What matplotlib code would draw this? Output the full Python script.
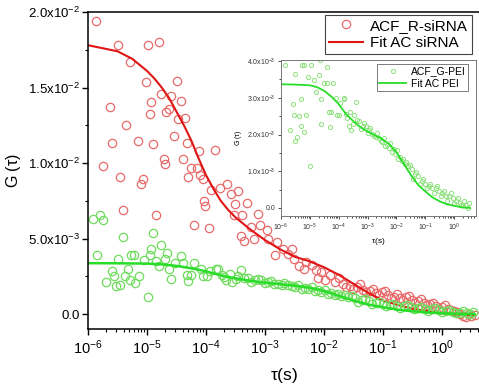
import numpy as np
import matplotlib.pyplot as plt
from matplotlib.ticker import MultipleLocator, FuncFormatter, LogLocator, NullFormatter

plt.rcParams['font.family'] = ['Liberation Sans', 'DejaVu Sans']
plt.rcParams['mathtext.fontset'] = 'custom'
plt.rcParams['mathtext.rm'] = 'Liberation Sans'
plt.rcParams['mathtext.it'] = 'Liberation Sans:italic'
plt.rcParams['mathtext.default'] = 'regular'

# ACF R-siRNA data (log10 tau, G)
red_exp = [-5.86, -5.75, -5.62, -5.59, -5.50, -5.45, -5.40, -5.36, -5.29, -5.15,
           -5.11, -5.06, -5.02, -4.99, -4.95, -4.93, -4.90, -4.85, -4.80, -4.77,
           -4.72, -4.69, -4.67, -4.63, -4.59, -4.55, -4.50, -4.47, -4.42, -4.39,
           -4.36, -4.33, -4.31, -4.25, -4.20, -4.16, -4.12, -4.10, -4.05, -4.03,
           -4.01, -3.95, -3.92, -3.84, -3.77, -3.64, -3.57, -3.53, -3.51, -3.46,
           -3.41, -3.39, -3.36, -3.30, -3.23, -3.18, -3.12, -3.09, -2.96, -2.95,
           -2.83, -2.79, -2.69, -2.61, -2.55, -2.51, -2.42, -2.34, -2.30, -2.20,
           -2.13, -2.10, -2.05, -1.99, -1.90, -1.82, -1.75, -1.68, -1.62, -1.56,
           -1.51, -1.44, -1.39, -1.34, -1.29, -1.22, -1.17, -1.12, -1.07, -1.02,
           -0.97, -0.92, -0.86, -0.81, -0.76, -0.71, -0.66, -0.61, -0.56, -0.51,
           -0.46, -0.41, -0.36, -0.31, -0.25, -0.20, -0.15, -0.10, -0.05, 0.00,
           0.05, 0.10, 0.15, 0.20, 0.25, 0.31, 0.36, 0.41, 0.46, 0.49, 0.56]
red_g = [0.0194, 0.00980, 0.01373, 0.01132, 0.01780, 0.00909, 0.00691, 0.01254, 0.01669, 0.01148,
         0.00863, 0.00892, 0.01536, 0.01783, 0.01326, 0.01402, 0.01128, 0.00658, 0.01801, 0.01457,
         0.01028, 0.00993, 0.01338, 0.01356, 0.01444, 0.01177, 0.01543, 0.01293, 0.01411, 0.01028,
         0.01296, 0.01134, 0.00907, 0.00967, 0.00587, 0.00967, 0.01081, 0.00918, 0.00896, 0.00746,
         0.00713, 0.00570, 0.00819, 0.01084, 0.00836, 0.00863, 0.00797, 0.00658, 0.00730, 0.00815,
         0.00515, 0.00658, 0.00483, 0.00735, 0.00576, 0.00499, 0.00664, 0.00587, 0.00558, 0.00499,
         0.00389, 0.00477, 0.00432, 0.00399, 0.00428, 0.00362, 0.00318, 0.00300, 0.00344, 0.00326,
         0.00289, 0.00238, 0.00278, 0.00223, 0.00256, 0.00212, 0.00238, 0.00201, 0.00179, 0.00185,
         0.00166, 0.00179, 0.00199, 0.00159, 0.00146, 0.00152, 0.00166, 0.00139, 0.00126, 0.00146,
         0.00152, 0.00126, 0.00106, 0.00113, 0.00132, 0.00106, 0.00093, 0.00113, 0.00119, 0.00093,
         0.00073, 0.00086, 0.00099, 0.00073, 0.00060, 0.00066, 0.00073, 0.00053, 0.00033, 0.00046,
         0.00060, 0.00033, 0.00026, 0.00020, 0.00013, 0.00000, -0.00013, -0.00020, 0.00000, -0.00013, -0.00007]

# Fit AC siRNA
red_fit_exp = [-6.0, -5.5, -5.25, -5.0, -4.875, -4.75, -4.625, -4.5, -4.375, -4.25, -4.125,
               -4.0, -3.875, -3.75, -3.625, -3.5, -3.25, -3.0, -2.75, -2.5, -2.25, -2.0,
               -1.75, -1.5, -1.25, -1.0, -0.75, -0.5, -0.25, 0.0, 0.25, 0.56]
red_fit = [0.0178, 0.0174, 0.0169, 0.0161, 0.0156, 0.0150, 0.0143, 0.0134, 0.0125, 0.0115, 0.0103,
           0.0092, 0.0083, 0.0075, 0.0069, 0.0064, 0.0056, 0.0049, 0.0043, 0.0038, 0.0035, 0.0031,
           0.0026, 0.0020, 0.0014, 0.0009, 0.0006, 0.00035, 0.0002, 0.00005, -0.00003, -0.00009]

# ACF G-PEI data (log10 tau, G)
green_exp = [-5.92, -5.85, -5.80, -5.75, -5.69, -5.59, -5.56, -5.53, -5.50, -5.45,
             -5.40, -5.37, -5.32, -5.29, -5.27, -5.22, -5.20, -5.14, -5.05, -4.98,
             -4.95, -4.93, -4.89, -4.84, -4.80, -4.77, -4.70, -4.66, -4.63, -4.60,
             -4.52, -4.42, -4.39, -4.32, -4.31, -4.26, -4.20, -4.08, -4.05, -3.98,
             -3.94, -3.83, -3.80, -3.73, -3.70, -3.66, -3.60, -3.56, -3.50, -3.46,
             -3.40, -3.35, -3.29, -3.23, -3.17, -3.12, -3.06, -3.00, -2.95, -2.90,
             -2.84, -2.78, -2.72, -2.67, -2.61, -2.55, -2.50, -2.44, -2.38, -2.33,
             -2.27, -2.21, -2.16, -2.10, -2.05, -1.99, -1.93, -1.88, -1.82, -1.76,
             -1.71, -1.65, -1.59, -1.53, -1.47, -1.42, -1.36, -1.31, -1.24, -1.19,
             -1.12, -1.07, -1.00, -0.95, -0.88, -0.83, -0.76, -0.71, -0.64, -0.59,
             -0.53, -0.47, -0.41, -0.36, -0.29, -0.24, -0.17, -0.12, -0.05, 0.00,
             0.07, 0.12, 0.19, 0.24, 0.31, 0.36, 0.42, 0.47, 0.53]
green_g = [0.00631, 0.00389, 0.00658, 0.00621, 0.00212, 0.00283, 0.00252, 0.00183, 0.00366, 0.00194,
           0.00510, 0.00250, 0.00296, 0.00223, 0.00389, 0.00389, 0.00207, 0.00252, 0.00356, 0.00113,
           0.00389, 0.00432, 0.00536, 0.00349, 0.00316, 0.00459, 0.00362, 0.00404, 0.00296, 0.00230,
           0.00340, 0.00384, 0.00340, 0.00260, 0.00221, 0.00260, 0.00340, 0.00300, 0.00252, 0.00252,
           0.00285, 0.00300, 0.00296, 0.00256, 0.00245, 0.00223, 0.00262, 0.00212, 0.00230, 0.00252,
           0.00289, 0.00240, 0.00238, 0.00215, 0.00223, 0.00232, 0.00223, 0.00205, 0.00212, 0.00218,
           0.00201, 0.00196, 0.00194, 0.00205, 0.00190, 0.00183, 0.00179, 0.00190, 0.00168, 0.00172,
           0.00164, 0.00177, 0.00152, 0.00160, 0.00146, 0.00158, 0.00134, 0.00140, 0.00128, 0.00133,
           0.00119, 0.00125, 0.00113, 0.00118, 0.00106, 0.00079, 0.00093, 0.00099, 0.00086, 0.00066,
           0.00073, 0.00079, 0.00066, 0.00053, 0.00060, 0.00066, 0.00053, 0.00040, 0.00053, 0.00060,
           0.00046, 0.00033, 0.00040, 0.00046, 0.00033, 0.00020, 0.00033, 0.00040, 0.00026, 0.00013,
           0.00020, 0.00026, 0.00013, 0.00007, 0.00007, 0.00020, 0.00007, 0.00000, 0.00013]

# Fit AC PEI
green_fit_exp = [-6.0, -5.5, -5.0, -4.75, -4.5, -4.25, -4.0, -3.75, -3.5, -3.25, -3.0, -2.75,
                 -2.5, -2.25, -2.0, -1.75, -1.5, -1.25, -1.0, -0.75, -0.5, -0.25, 0.0, 0.3, 0.55]
green_fit = [0.00337, 0.00336, 0.00334, 0.00329, 0.00319, 0.00303, 0.00283, 0.00256, 0.00237,
             0.00220, 0.00208, 0.00198, 0.00188, 0.00174, 0.00152, 0.00121, 0.00090, 0.00063,
             0.00045, 0.00029, 0.00018, 0.00010, 0.00006, 0.00001, 0.00000]

red_tau = 10 ** np.array(red_exp)
red_fit_tau = 10 ** np.array(red_fit_exp)
green_tau = 10 ** np.array(green_exp)
green_fit_tau = 10 ** np.array(green_fit_exp)

c_red_pt = '#e86a6a'
c_red_line = '#e01515'
c_green_pt = '#6fdc5e'
c_green_line = '#28dd28'


def sci_fmt(v, pos):
    if abs(v) < 1e-12:
        return '0.0'
    e = int(np.floor(np.log10(abs(v)) + 1e-9))
    m = v / 10 ** e
    return r'$%.1f\mathrm{x}10^{%d}$' % (m, e)


fig = plt.figure(figsize=(4.79, 3.88), dpi=100)
ax = fig.add_axes([88 / 479, 1 - 329 / 388, 393 / 479, 317 / 388])

ax.plot(red_tau, red_g, 'o', mfc='none', mec=c_red_pt, ms=6, mew=0.9, label='ACF_R-siRNA')
ax.plot(red_fit_tau, red_fit, '-', color=c_red_line, lw=1.5, label='Fit AC siRNA')
ax.plot(green_tau, green_g, 'o', mfc='none', mec=c_green_pt, ms=6, mew=0.9)
ax.plot(green_fit_tau, green_fit, '-', color=c_green_line, lw=1.8)

ax.set_xscale('log')
ax.set_xlim(1e-6, 10 ** 0.661)
ax.set_ylim(-0.00099, 0.02)
ax.yaxis.set_major_locator(MultipleLocator(0.005))
ax.yaxis.set_minor_locator(MultipleLocator(0.0025))
ax.yaxis.set_major_formatter(FuncFormatter(sci_fmt))
ax.xaxis.set_major_locator(LogLocator(base=10, numticks=12))
ax.xaxis.set_minor_locator(LogLocator(base=10, subs=np.arange(2, 10), numticks=12))
ax.xaxis.set_minor_formatter(NullFormatter())
ax.tick_params(axis='both', which='major', direction='out', length=4, width=1.0)
ax.tick_params(axis='both', which='minor', direction='out', length=2.5, width=0.8)
ax.tick_params(axis='x', labelsize=10.5, pad=3)
ax.tick_params(axis='y', labelsize=9.5, pad=2)
for s in ax.spines.values():
    s.set_linewidth(1.1)
ax.set_xlabel(r'$\tau$(s)', fontsize=12.5, labelpad=6)
ax.set_ylabel(r'G ($\tau$)', fontsize=11.5, labelpad=3)

leg = ax.legend(loc='upper right', bbox_to_anchor=(472 / 479, 1 - 15 / 388),
                bbox_transform=fig.transFigure, borderaxespad=0, fontsize=11,
                fancybox=False, edgecolor='#444444', framealpha=1,
                handlelength=2.2, handletextpad=0.5, borderpad=0.25, labelspacing=0.2)
leg.get_frame().set_linewidth(0.8)

# inset
ins = fig.add_axes([281 / 479, 1 - 216 / 388, 195 / 479, 156 / 388])
ins.plot(green_tau, green_g, 'o', mfc='none', mec='#8ce27c', ms=3, mew=0.7, label='ACF_G-PEI')
ins.plot(green_fit_tau, green_fit, '-', color=c_green_line, lw=1.3, label='Fit AC PEI')
ins.set_xscale('log')
ins.set_xlim(1e-6, 10 ** 0.76)
ins.set_ylim(-0.00022, 0.00403)
ins.yaxis.set_major_locator(MultipleLocator(0.001))
ins.yaxis.set_minor_locator(MultipleLocator(0.0005))
ins.yaxis.set_major_formatter(FuncFormatter(sci_fmt))
ins.xaxis.set_major_locator(LogLocator(base=10, numticks=12))
ins.xaxis.set_minor_locator(LogLocator(base=10, subs=np.arange(2, 10), numticks=12))
ins.xaxis.set_minor_formatter(NullFormatter())
ins.tick_params(axis='both', which='major', direction='out', length=2.5, width=0.6,
                labelsize=5, pad=1.5, colors='#333333')
ins.tick_params(axis='both', which='minor', direction='out', length=1.5, width=0.5)
for s in ins.spines.values():
    s.set_linewidth(0.7)
    s.set_color('#777777')
ins.set_xlabel(r'$\tau$(s)', fontsize=6, labelpad=2)
ins.set_ylabel(r'G ($\tau$)', fontsize=5, labelpad=2)

leg2 = ins.legend(loc='upper right', bbox_to_anchor=(468 / 479, 1 - 64 / 388),
                  bbox_transform=fig.transFigure, borderaxespad=0, fontsize=7.5,
                  fancybox=False, edgecolor='#666666', framealpha=1,
                  handlelength=2.6, handletextpad=0.4, borderpad=0.25, labelspacing=0.2)
leg2.get_frame().set_linewidth(0.6)

fig.savefig('out.png', dpi=100)
